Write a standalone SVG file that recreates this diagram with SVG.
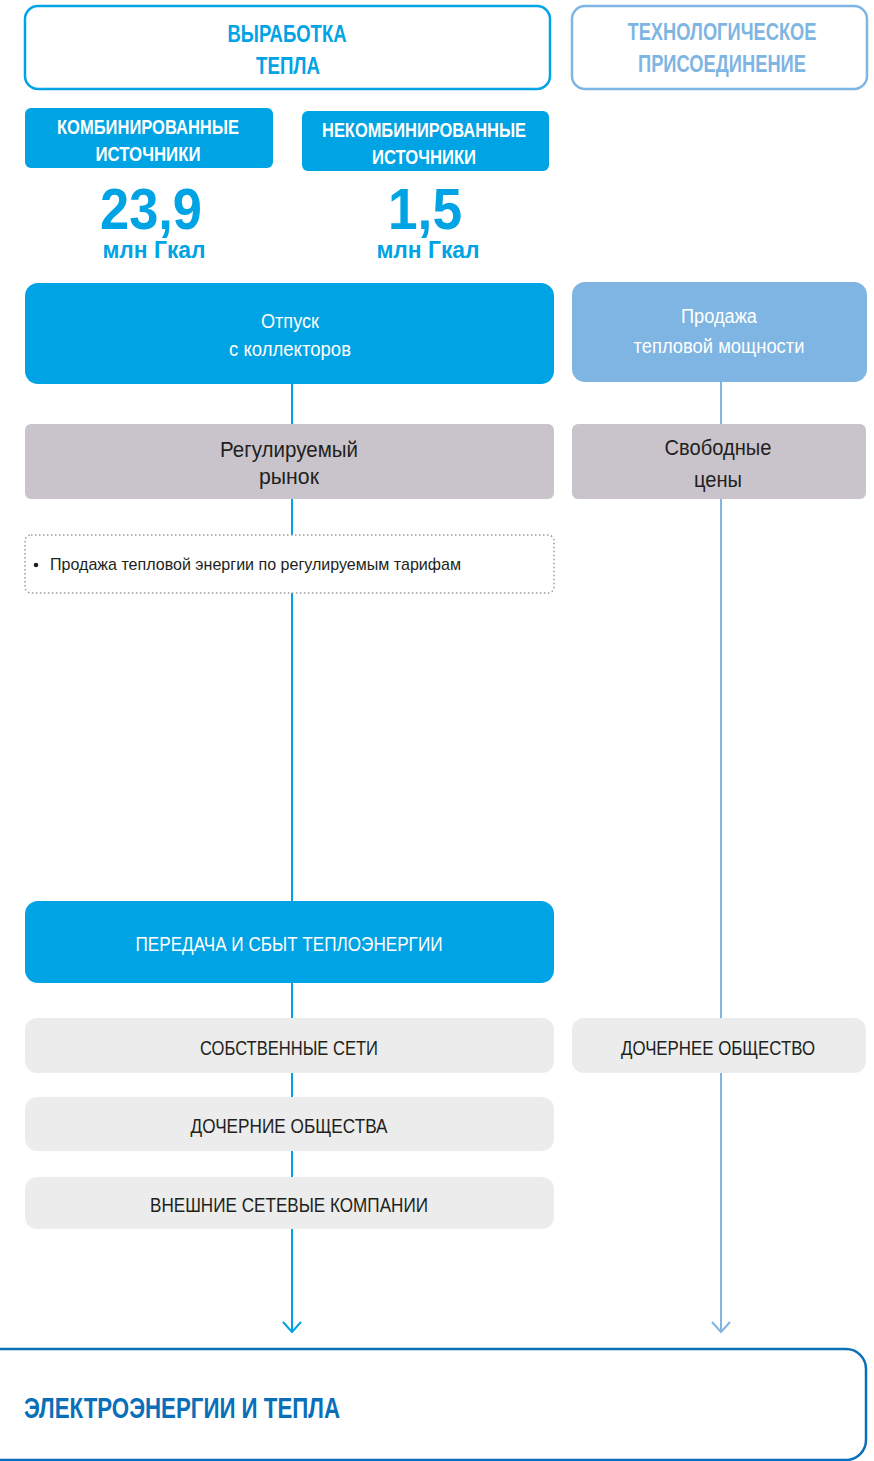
<svg xmlns="http://www.w3.org/2000/svg" width="874" height="1461" viewBox="0 0 874 1461">
<style>
text{font-family:"Liberation Sans",Arial,sans-serif;text-anchor:middle}
.b{font-weight:bold}
.blue{fill:#00a3e4}
.lblue{fill:#7fb5e2}
.w{fill:#fff}
.dk{fill:#231f20}
.c1{stroke:#00a3e4;stroke-width:2;fill:none}
.c2{stroke:#7fb5e2;stroke-width:2;fill:none}
</style>
<defs>
<marker id="a1" markerWidth="14" markerHeight="20" refX="12" refY="10" orient="auto" markerUnits="userSpaceOnUse" viewBox="0 0 14 20"><path d="M2 1 L12 10 L2 19" fill="none" stroke="#00a3e4" stroke-width="2"/></marker>
<marker id="a2" markerWidth="14" markerHeight="20" refX="12" refY="10" orient="auto" markerUnits="userSpaceOnUse" viewBox="0 0 14 20"><path d="M2 1 L12 10 L2 19" fill="none" stroke="#7fb5e2" stroke-width="2"/></marker>
</defs>
<rect width="874" height="1461" fill="#fff"/>
<g id="connectors">
<path class="c1" d="M292 384V424M292 499V535M292 593V901M292 983V1018M292 1073V1097M292 1151V1177"/>
<path class="c1" d="M292 1229V1332" marker-end="url(#a1)"/>
<path class="c2" d="M721 382V424M721 499V1018"/>
<path class="c2" d="M721 1073V1332" marker-end="url(#a2)"/>
</g>
<g id="n-vyrabotka">
<rect x="25" y="6" width="525" height="83" rx="13" fill="#fff" stroke="#00a3e4" stroke-width="2.5"/>
<text x="287" y="42" class="b blue" font-size="23" textLength="119" lengthAdjust="spacingAndGlyphs">ВЫРАБОТКА</text>
<text x="288" y="74" class="b blue" font-size="23" textLength="64" lengthAdjust="spacingAndGlyphs">ТЕПЛА</text>
</g>
<g id="n-tech">
<rect x="572" y="6" width="295" height="83" rx="13" fill="#fff" stroke="#7fb5e2" stroke-width="2.5"/>
<text x="722" y="40" class="b lblue" font-size="23" textLength="189" lengthAdjust="spacingAndGlyphs">ТЕХНОЛОГИЧЕСКОЕ</text>
<text x="722" y="72" class="b lblue" font-size="23" textLength="168" lengthAdjust="spacingAndGlyphs">ПРИСОЕДИНЕНИЕ</text>
</g>
<g id="n-komb">
<rect x="25" y="108" width="248" height="60" rx="6" fill="#00a3e4"/>
<text x="148" y="134" class="b w" font-size="20" textLength="182" lengthAdjust="spacingAndGlyphs">КОМБИНИРОВАННЫЕ</text>
<text x="148" y="161" class="b w" font-size="20" textLength="105" lengthAdjust="spacingAndGlyphs">ИСТОЧНИКИ</text>
<text x="151" y="229" class="b blue" font-size="57" textLength="102" lengthAdjust="spacingAndGlyphs">23,9</text>
<text x="154" y="258" class="b blue" font-size="23" textLength="103" lengthAdjust="spacingAndGlyphs">млн Гкал</text>
</g>
<g id="n-nekomb">
<rect x="302" y="111" width="247" height="60" rx="6" fill="#00a3e4"/>
<text x="424" y="137" class="b w" font-size="20" textLength="204" lengthAdjust="spacingAndGlyphs">НЕКОМБИНИРОВАННЫЕ</text>
<text x="424" y="164" class="b w" font-size="20" textLength="104" lengthAdjust="spacingAndGlyphs">ИСТОЧНИКИ</text>
<text x="425" y="229" class="b blue" font-size="57" textLength="74" lengthAdjust="spacingAndGlyphs">1,5</text>
<text x="428" y="258" class="b blue" font-size="23" textLength="103" lengthAdjust="spacingAndGlyphs">млн Гкал</text>
</g>
<g id="n-otpusk">
<rect x="25" y="283" width="529" height="101" rx="13" fill="#00a3e4"/>
<text x="290" y="328" class="w" font-size="20" textLength="58" lengthAdjust="spacingAndGlyphs">Отпуск</text>
<text x="290" y="356" class="w" font-size="20" textLength="122" lengthAdjust="spacingAndGlyphs">с коллекторов</text>
</g>
<g id="n-prodazha">
<rect x="572" y="282" width="295" height="100" rx="13" fill="#7fb5e2"/>
<text x="719" y="323" class="w" font-size="20" textLength="76" lengthAdjust="spacingAndGlyphs">Продажа</text>
<text x="719" y="353" class="w" font-size="20" textLength="171" lengthAdjust="spacingAndGlyphs">тепловой мощности</text>
</g>
<g id="n-reg">
<rect x="25" y="424" width="529" height="75" rx="6" fill="#c9c4cb"/>
<text x="289" y="457" class="dk" font-size="22" textLength="138" lengthAdjust="spacingAndGlyphs">Регулируемый</text>
<text x="289" y="484" class="dk" font-size="22" textLength="60" lengthAdjust="spacingAndGlyphs">рынок</text>
</g>
<g id="n-svob">
<rect x="572" y="424" width="294" height="75" rx="6" fill="#c9c4cb"/>
<text x="718" y="455" class="dk" font-size="22" textLength="107" lengthAdjust="spacingAndGlyphs">Свободные</text>
<text x="718" y="487" class="dk" font-size="22" textLength="48" lengthAdjust="spacingAndGlyphs">цены</text>
</g>
<g id="n-bullet">
<rect x="25" y="535" width="529" height="58" rx="6" fill="#fff" stroke="#9a9a9a" stroke-width="1.5" stroke-dasharray="1.5 2.5"/>
<circle cx="36" cy="565" r="2.3" fill="#231f20"/>
<text x="50" y="570" class="dk" font-size="17" style="text-anchor:start" textLength="411" lengthAdjust="spacingAndGlyphs">Продажа тепловой энергии по регулируемым тарифам</text>
</g>
<g id="n-peredacha">
<rect x="25" y="901" width="529" height="82" rx="13" fill="#00a3e4"/>
<text x="289" y="951" class="w" font-size="21" textLength="307" lengthAdjust="spacingAndGlyphs">ПЕРЕДАЧА И СБЫТ ТЕПЛОЭНЕРГИИ</text>
</g>
<g id="n-sobst">
<rect x="25" y="1018" width="529" height="55" rx="12" fill="#ececec"/>
<text x="289" y="1055" class="dk" font-size="21" textLength="178" lengthAdjust="spacingAndGlyphs">СОБСТВЕННЫЕ СЕТИ</text>
</g>
<g id="n-doch1">
<rect x="572" y="1018" width="294" height="55" rx="12" fill="#ececec"/>
<text x="718" y="1055" class="dk" font-size="21" textLength="194" lengthAdjust="spacingAndGlyphs">ДОЧЕРНЕЕ ОБЩЕСТВО</text>
</g>
<g id="n-doch2">
<rect x="25" y="1097" width="529" height="54" rx="12" fill="#ececec"/>
<text x="289" y="1133" class="dk" font-size="21" textLength="197" lengthAdjust="spacingAndGlyphs">ДОЧЕРНИЕ ОБЩЕСТВА</text>
</g>
<g id="n-vnesh">
<rect x="25" y="1177" width="529" height="52" rx="12" fill="#ececec"/>
<text x="289" y="1212" class="dk" font-size="21" textLength="278" lengthAdjust="spacingAndGlyphs">ВНЕШНИЕ СЕТЕВЫЕ КОМПАНИИ</text>
</g>
<g id="n-bottom">
<rect x="-20" y="1349" width="886" height="111" rx="20" fill="#fff" stroke="#0a6fb8" stroke-width="2.5"/>
<text x="24" y="1418" class="b" fill="#0a6fb8" font-size="29" style="text-anchor:start" textLength="316" lengthAdjust="spacingAndGlyphs">ЭЛЕКТРОЭНЕРГИИ И ТЕПЛА</text>
</g>
</svg>
